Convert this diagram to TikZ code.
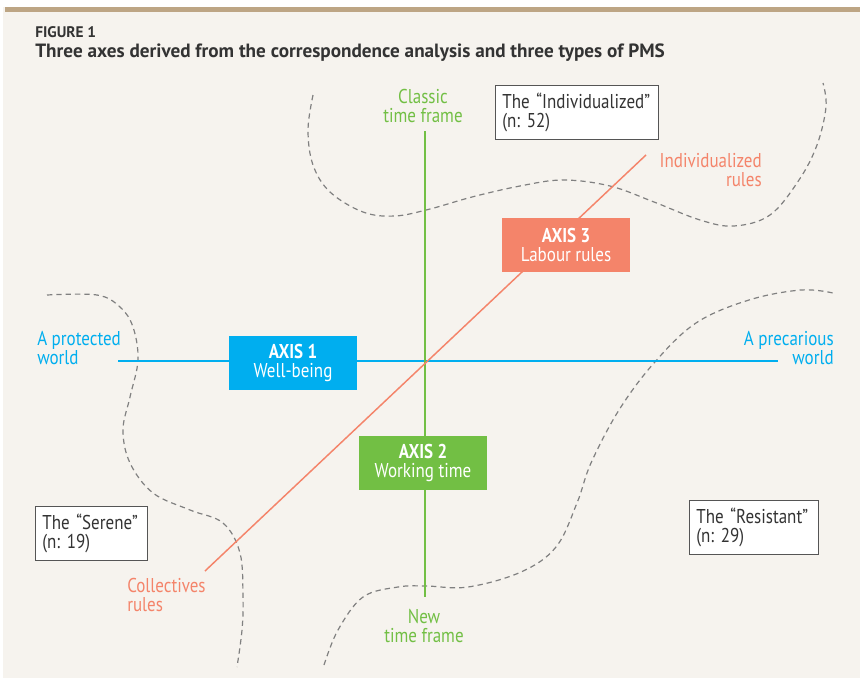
\documentclass[tikz,border=0pt]{standalone}
\usepackage{fontspec}
\setmainfont{PT Sans}
\newfontfamily\narrowsans[FakeStretch=0.85]{PT Sans}
\usepackage{tikz}

\definecolor{paper}{HTML}{F6F3EE}
\definecolor{rim}{HTML}{BDA584}
\definecolor{inktext}{HTML}{333333}
\definecolor{edgegray}{HTML}{555555}
\definecolor{dashgray}{HTML}{808080}
\definecolor{wellblue}{HTML}{00AEEF}
\definecolor{timegreen}{HTML}{72BF44}
\definecolor{rulesorange}{HTML}{F4846A}

\newcommand{\lblfont}{\narrowsans\fontsize{15pt}{14pt}\selectfont\hyphenpenalty=10000}

\begin{document}
\frenchspacing
\begin{tikzpicture}[x=0.75pt,y=-0.75pt,
    axisbox/.style={minimum width=96pt,minimum height=40.5pt,inner sep=0pt,text=white,align=center,font=\lblfont},
    groupbox/.style={draw=edgegray,fill=white,line width=1.1pt,anchor=north west,inner xsep=5pt,inner ysep=0pt,minimum height=40.5pt,align=left,text=inktext,font=\lblfont},
    pole/.style={inner sep=0pt,font=\lblfont},
    frontier/.style={draw=dashgray,line width=0.9pt,dash pattern=on 4pt off 3pt}]

\useasboundingbox (0,0) rectangle (860,678);
\fill[white] (0,0) rectangle (860,678);
\fill[paper] (3,7) rectangle (860,678);
\fill[rim] (5,7) rectangle (860,12);

\node[anchor=base west,inner sep=0pt,text=inktext,font=\fontsize{11.5pt}{13pt}\selectfont\bfseries] (fig) at (35,37) {FIGURE 1};
\node[anchor=base west,inner sep=0pt,text=inktext,font=\fontsize{14.4pt}{16pt}\selectfont\bfseries] (title) at (35,57) {Three axes derived from the correspondence analysis and three types of PMS};

\begin{scope}[frontier]
    \draw plot[smooth,tension=0.6] coordinates {(313,95) (308,130) (313,165) (330,192) (363,212) (395,216) (430,209) (472,197) (520,186) (563,180) (610,186) (654,202) (700,220) (734,226) (770,215) (799,180) (817,145) (826,107) (823,83)};
    \draw plot[smooth,tension=0.6] coordinates {(47,295) (97,295) (120,307) (133,327) (138,360) (130,397) (123,430) (130,463) (153,493) (190,510) (223,523) (240,553) (243,597) (242,630) (237,667)};
    \draw plot[smooth,tension=0.6] coordinates {(324,665) (338,630) (363,597) (398,587) (426,586) (468,587) (521,572) (556,547) (577,503) (591,463) (619,410) (654,363) (696,323) (749,300) (801,290) (833,293)};
\end{scope}

\coordinate (w1) at (118,361);
\coordinate (e1) at (778,361);
\coordinate (n2) at (425,131);
\coordinate (s2) at (425,597);
\coordinate (sw3) at (205,571);
\coordinate (ne3) at (646,155);

\begin{scope}[line width=1.1pt]
    \draw[wellblue] (w1) -- (e1);
    \draw[timegreen] (n2) -- (s2);
    \draw[rulesorange] (sw3) -- (ne3);
\end{scope}

\begin{scope}[every node/.style={axisbox}]
    \node[fill=wellblue] (axis1) at (293,363) {\textbf{AXIS 1}\\Well-being};
    \node[fill=timegreen] (axis2) at (423,463) {\textbf{AXIS 2}\\Working time};
    \node[fill=rulesorange] (axis3) at (566,245) {\textbf{AXIS 3}\\Labour rules};
\end{scope}

\begin{scope}[every node/.style={pole}]
    \node[anchor=west,align=left,text=wellblue] (protected) at (37,348) {A protected\\world};
    \node[anchor=east,align=right,text=wellblue] (precarious) at (834,348) {A precarious\\world};
    \node[align=center,text=timegreen] (classic) at (423,106) {Classic\\time frame};
    \node[align=center,text=timegreen] (newframe) at (424,626) {New\\time frame};
    \node[anchor=east,align=right,text=rulesorange] (indrules) at (762,170) {Individualized\\rules};
    \node[anchor=west,align=left,text=rulesorange] (colrules) at (127,595) {Collectives\\rules};
\end{scope}

\node[groupbox,text width=112.25pt] (individualized) at (495,85) {The “Individualized”\\(n: 52)};
\node[groupbox,text width=74pt] (serene) at (35,506) {The “Serene”\\(n: 19)};
\node[groupbox,text width=86.75pt] (resistant) at (689,500) {The “Resistant”\\(n: 29)};

\end{tikzpicture}
\end{document}
